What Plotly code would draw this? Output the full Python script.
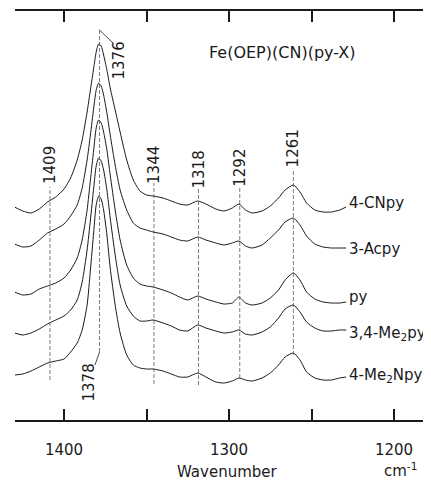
import plotly.graph_objects as go

# ---------------- data ----------------
wavenumber = [1430, 1425, 1420, 1415, 1410, 1405, 1400,
              1396, 1392, 1389, 1386, 1384, 1382, 1380.5, 1379, 1377.5, 1376,
              1374, 1372, 1369, 1366, 1362, 1358, 1354, 1350, 1346,
              1340, 1335, 1330, 1325, 1319, 1314, 1308, 1303, 1298, 1294,
              1290, 1286, 1280, 1275, 1270, 1266, 1261, 1257, 1253, 1248,
              1243, 1238, 1233, 1229]

cnpy = [8, 4, 2, 6, 13, 18, 26, 37, 55, 75, 103, 125, 147, 163, 171, 169, 160,
        145, 127, 105, 83, 55, 35, 24, 20, 19, 17, 14, 11, 10, 14, 11, 6, 4, 7, 11,
        5, 2, 4, 9, 17, 25, 30, 23, 12, 5, 3, 3, 5, 8]
acpy = [6, 3, 4, 10, 17, 21, 26, 34, 45, 62, 90, 115, 142, 160, 167, 164, 155,
        137, 115, 85, 60, 40, 27, 22, 20, 18, 16, 13, 10, 9, 13, 10, 7, 5, 7, 9,
        4, 2, 5, 12, 20, 28, 32, 25, 14, 6, 3, 2, 2, 2]
py = [15, 12, 13, 18, 21, 24, 29, 37, 49, 67, 97, 127, 157, 179, 187, 184, 175,
      157, 132, 97, 67, 42, 29, 23, 21, 20, 17, 14, 10, 7, 11, 8, 5, 3, 4, 10,
      4, 2, 4, 9, 17, 27, 34, 27, 15, 8, 5, 4, 4, 5]
me2py = [4, 2, 4, 8, 13, 17, 21, 27, 37, 55, 87, 117, 149, 171, 179, 176, 167,
         147, 119, 82, 52, 31, 21, 16, 16, 17, 14, 11, 7, 6, 12, 9, 6, 4, 5, 7,
         3, 2, 5, 10, 19, 28, 32, 25, 15, 9, 6, 6, 7, 7]
me2npy = [10, 11, 14, 18, 22, 24, 26, 33, 42, 55, 80, 115, 153, 180, 189, 186, 175,
          150, 117, 80, 52, 30, 20, 17, 16, 16, 14, 11, 8, 8, 12, 8, 3, 2, 4, 7,
          5, 4, 7, 12, 20, 28, 32, 25, 13, 7, 5, 5, 7, 8]

series_names = ["4-CNpy", "3-Acpy", "py", "3,4-Me<sub>2</sub>py", "4-Me<sub>2</sub>Npy"]
series_values = [cnpy, acpy, py, me2py, me2npy]
offsets = [205, 170, 113, 83, 35]
label_y = [217, 171, 123, 87, 45]

marker_pos = [1408.5, 1345.5, 1318.5, 1293.5, 1261]
marker_text = ["1409", "1344", "1318", "1292", "1261"]
marker_label_y = [255, 255, 250, 252, 272]
marker_span = [(40, 233), (36, 237), (35, 232), (42, 232), (65, 250)]

main_peak = 1378.5
major_ticks = [1400, 1300, 1200]
major_text = ["1400", "1300", "1200"]
minor_ticks = [1350, 1250]

FONT = "DejaVu Sans"
INK = "#1a1a1a"
DASH = "#5a5a5a"
Y_SPAN = 409.0  # y-axis range (plot height in data units)

fig = go.Figure()
for name, vals, off in zip(series_names, series_values, offsets):
    fig.add_trace(go.Scatter(
        x=wavenumber, y=[v + off for v in vals], mode="lines", name=name,
        line=dict(color=INK, width=1, shape="spline", smoothing=0.6),
        showlegend=False, hoverinfo="skip"))

shapes = []
annotations = []
for pos, txt, ly, (y0, y1) in zip(marker_pos, marker_text, marker_label_y, marker_span):
    shapes.append(dict(type="line", xref="x", yref="y", x0=pos, x1=pos, y0=y0, y1=y1,
                       line=dict(color=DASH, width=0.8, dash="4px,2px")))
    annotations.append(dict(x=pos, y=ly, xref="x", yref="y", text=txt, textangle=-90,
                            showarrow=False, font=dict(family=FONT, size=15, color=INK)))

# main band 1376 / 1378
shapes.append(dict(type="line", xref="x", yref="y", x0=main_peak, x1=main_peak, y0=68, y1=390,
                   line=dict(color=DASH, width=0.8, dash="4px,2px")))
shapes.append(dict(type="line", xref="x", yref="y", x0=main_peak, x1=main_peak - 8.2, y0=390, y1=377,
                   line=dict(color=INK, width=0.8)))
shapes.append(dict(type="line", xref="x", yref="y", x0=main_peak, x1=main_peak + 2.7, y0=68, y1=55,
                   line=dict(color=INK, width=0.8)))
annotations.append(dict(x=main_peak, y=360, xref="x", yref="y", xshift=20, text="1376",
                        textangle=-90, showarrow=False, font=dict(family=FONT, size=15, color=INK)))
annotations.append(dict(x=main_peak, y=38, xref="x", yref="y", xshift=-10, text="1378",
                        textangle=-90, showarrow=False, font=dict(family=FONT, size=15, color=INK)))

for name, ly in zip(series_names, label_y):
    annotations.append(dict(x=1228.5, y=ly, xref="x", yref="y", text=name, xanchor="left",
                            showarrow=False, font=dict(family=FONT, size=15, color=INK)))

annotations.append(dict(x=1268, y=368, xref="x", yref="y", text="Fe(OEP)(CN)(py-X)",
                        showarrow=False, font=dict(family=FONT, size=16, color=INK)))
annotations.append(dict(x=1301, y=-52 / Y_SPAN, xref="x", yref="paper", text="Wavenumber",
                        xanchor="center", yanchor="middle",
                        showarrow=False, font=dict(family=FONT, size=15, color=INK)))
annotations.append(dict(x=1196, y=-50 / Y_SPAN, xref="x", yref="paper", text="cm<sup>-1</sup>",
                        xanchor="center", yanchor="middle",
                        showarrow=False, font=dict(family=FONT, size=15, color=INK)))

# page body has an 8px margin: size the figure so the plot lands where the reference has it
fig.update_layout(
    width=423, height=474,
    margin=dict(l=7, r=0, t=3, b=62),
    paper_bgcolor="white", plot_bgcolor="white",
    shapes=shapes, annotations=annotations,
    xaxis=dict(range=[1429.7, 1177.6], showline=True, linewidth=2, linecolor=INK,
               mirror="ticks", ticks="inside", ticklen=11, tickwidth=1.5, tickcolor=INK,
               tickmode="array", tickvals=major_ticks, ticktext=major_text, ticklabelstandoff=15,
               tickfont=dict(family=FONT, size=15, color=INK),
               minor=dict(ticks="inside", ticklen=11, tickwidth=1.5, tickcolor=INK,
                          tickmode="array", tickvals=minor_ticks, showgrid=False),
               showgrid=False, zeroline=False),
    yaxis=dict(range=[0, Y_SPAN], visible=False, showgrid=False, zeroline=False),
)

fig.write_html("out.html")
